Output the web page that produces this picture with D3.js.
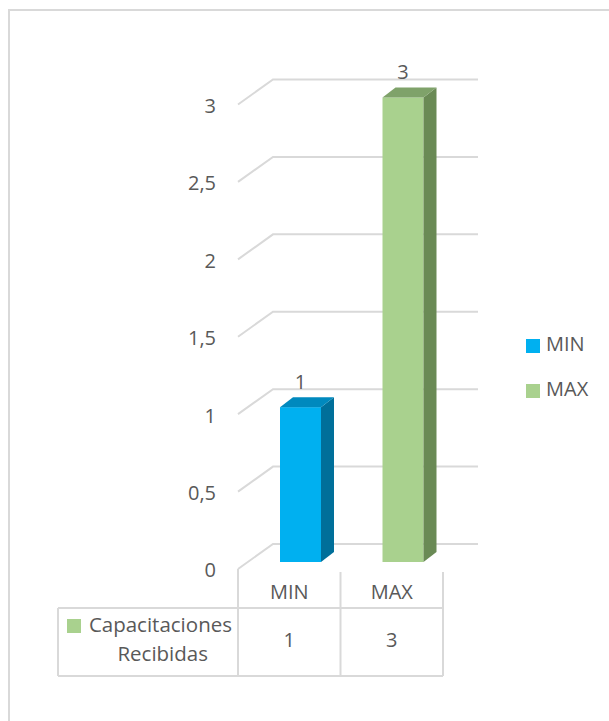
<!DOCTYPE html>
<html><head><meta charset="utf-8">
<script src="https://cdn.jsdelivr.net/npm/d3@7"></script>
<style>body{margin:0;background:#fff}svg{display:block}text{font-family:"Open Sans",sans-serif;fill:#595959}</style>
</head><body>
<script>
const categories = ["MIN", "MAX"];
const values = [1, 3];
const yTicks = [0, 0.5, 1, 1.5, 2, 2.5, 3];
const tickLabels = ["0", "0,5", "1", "1,5", "2", "2,5", "3"];
const seriesName = ["Capacitaciones", "Recibidas"];
const legendItems = ["MIN", "MAX"];
const frontColors = ["#00B0F0", "#A9D18E"];
const sideColors = ["#006F9A", "#6A8A55"];
const topColors = ["#0089BE", "#7FA26A"];

const W = 609, H = 721;
const svg = d3.select("body").append("svg").attr("width", W).attr("height", H);
const grid = "#d9d9d9";

// frame
svg.append("path").attr("d", `M9,${H} L9,10 L${W},10`).attr("fill","none").attr("stroke",grid).attr("stroke-width",2);

const y = d3.scaleLinear().domain([0, 3]).range([544, 79.5]);
const x = d3.scaleBand().domain(categories).range([238, 443]);
const dxW = 35, dyW = 25;   // wall depth
const bdx = 13, bdy = 10;   // bar depth

// gridlines
const g = svg.append("g");
yTicks.forEach((t, i) => {
  g.append("path")
    .attr("d", `M${238},${y(t)+dyW} L${238+dxW},${y(t)} L478,${y(t)}`)
    .attr("fill","none").attr("stroke",grid).attr("stroke-width",2);
  svg.append("text").attr("x", 216).attr("y", y(t)+dyW+3)
    .attr("text-anchor","end").attr("dominant-baseline","middle")
    .attr("font-size",20).text(tickLabels[i]);
});

// bars
categories.forEach((c, i) => {
  const x0 = x(c) + 42, w = 41;
  const yb = y(0) + 18, yt = y(values[i]) + 18;
  svg.append("rect").attr("x", x0).attr("y", yt).attr("width", w).attr("height", yb - yt).attr("fill", frontColors[i]);
  svg.append("path").attr("d", `M${x0+w},${yt} L${x0+w+bdx},${yt-bdy} L${x0+w+bdx},${yb-bdy} L${x0+w},${yb} Z`).attr("fill", sideColors[i]);
  svg.append("path").attr("d", `M${x0},${yt} L${x0+bdx},${yt-bdy} L${x0+w+bdx},${yt-bdy} L${x0+w},${yt} Z`).attr("fill", topColors[i]);
  svg.append("text").attr("x", x0 + w/2).attr("y", yt - bdy - 14)
    .attr("text-anchor","middle").attr("dominant-baseline","middle")
    .attr("font-size",20).text(values[i]);
});

// category axis / data table
const tTop = 608, tBot = 676, tLeft = 58;
const ln = (x1,y1,x2,y2) => svg.append("line").attr("x1",x1).attr("y1",y1).attr("x2",x2).attr("y2",y2).attr("stroke",grid).attr("stroke-width",2);
ln(238, y(0)+dyW, 238, tBot);
categories.forEach(c => ln(x(c)+x.bandwidth(), 572, x(c)+x.bandwidth(), tBot));
ln(tLeft, tTop, 443, tTop);
ln(tLeft, tBot, 443, tBot);
ln(tLeft, tTop, tLeft, tBot);

categories.forEach((c, i) => {
  svg.append("text").attr("x", x(c)+x.bandwidth()/2).attr("y", 594)
    .attr("text-anchor","middle").attr("dominant-baseline","middle").attr("font-size",20).text(c);
  svg.append("text").attr("x", x(c)+x.bandwidth()/2).attr("y", 642)
    .attr("text-anchor","middle").attr("dominant-baseline","middle").attr("font-size",20).text(values[i]);
});
svg.append("rect").attr("x",67).attr("y",619).attr("width",14).attr("height",14).attr("fill",frontColors[1]);
svg.append("text").attr("x",232).attr("y",627).attr("text-anchor","end").attr("dominant-baseline","middle").attr("font-size",20.5).text(seriesName[0]);
svg.append("text").attr("x",208).attr("y",656).attr("text-anchor","end").attr("dominant-baseline","middle").attr("font-size",20.5).text(seriesName[1]);

// legend
legendItems.forEach((n, i) => {
  const ly = 346 + i*45;
  svg.append("rect").attr("x",526).attr("y",ly-7).attr("width",14).attr("height",14).attr("fill",frontColors[i]);
  svg.append("text").attr("x",546).attr("y",ly).attr("dominant-baseline","middle").attr("font-size",20).text(n);
});
</script>
</body></html>
